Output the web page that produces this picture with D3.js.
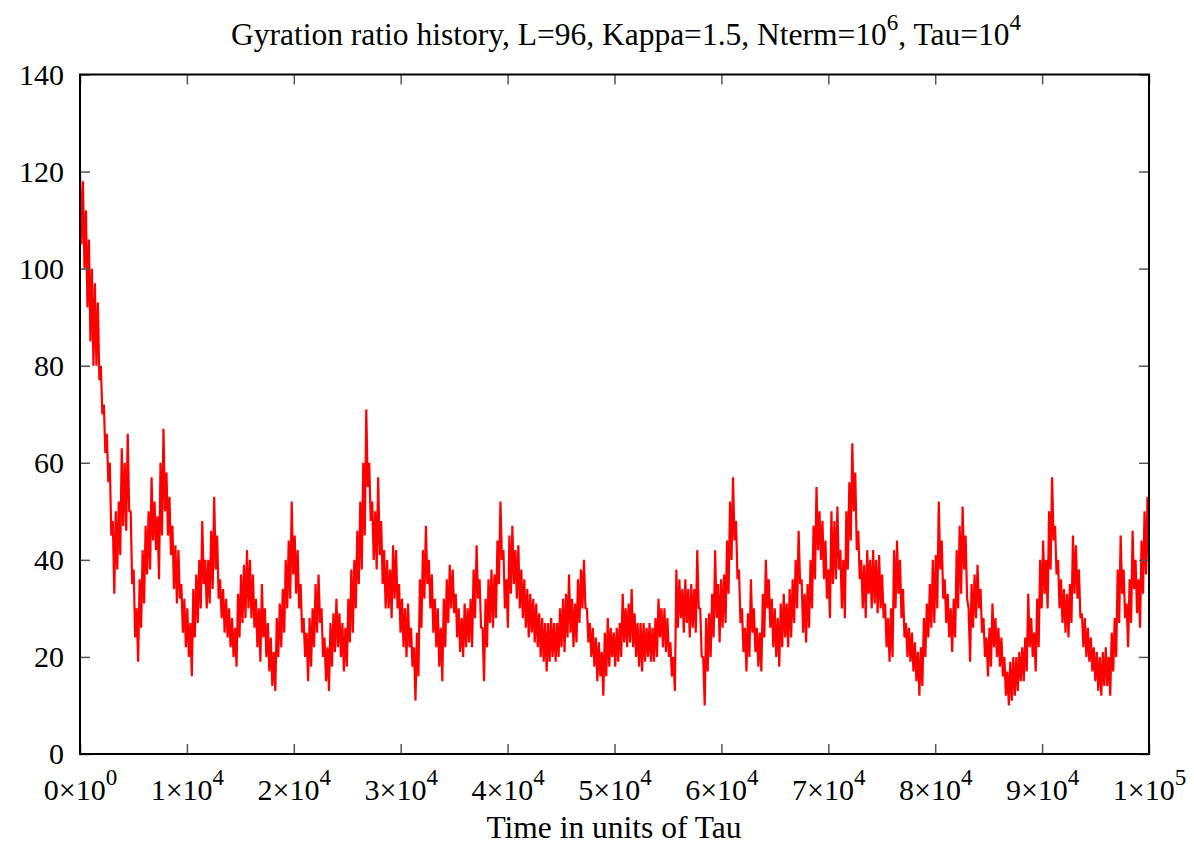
<!DOCTYPE html>
<html lang="en">
<head>
<meta charset="utf-8">
<title>Gyration ratio history</title>
<script src="https://cdn.jsdelivr.net/npm/d3@7"></script>
<style>
  body { margin: 0; background: #fff; }
  svg { display: block; font-family: "Liberation Serif", "Times New Roman", serif; }
  .frame { fill: none; stroke: #000; stroke-width: 2px; }
  .tick line { stroke: #555; stroke-width: 1.5px; }
  .tick text { fill: #000; }
  .trace { fill: none; stroke: #f00; stroke-width: 2.2px; stroke-linejoin: bevel; }
</style>
</head>
<body>
<svg width="1194" height="845"></svg>
<script>
// y ticks
const yTicks = [0, 20, 40, 60, 80, 100, 120, 140];
// x ticks, drawn as mantissa x 10^exponent
const xTicks = [0, 1e4, 2e4, 3e4, 4e4, 5e4, 6e4, 7e4, 8e4, 9e4, 1e5];
const xMantissa = ["0", "1", "2", "3", "4", "5", "6", "7", "8", "9", "1"];
const xExponent = ["0", "4", "4", "4", "4", "4", "4", "4", "4", "4", "5"];

// gyration ratio, upper/lower swing pairs along the run
const ratio = [
  120,105, 118,100, 112,92, 106,85, 100,80, 97,80, 93,77, 80,70, 72,62,
  66,56, 60,45, 48,33, 50,38, 52,41, 63,47, 60,46, 66,50, 50,35, 38,24,
  30,19, 36,26, 42,31, 47,37, 50,38, 57,44, 52,42, 49,36, 60,45,
  67,50, 58,45, 53,41, 47,34, 43,31, 42,32, 35,25, 32,22, 30,20,
  27,16, 34,24, 37,27, 40,30, 48,35, 40,30, 40,31, 46,34, 53,38,
  45,32, 36,28, 34,25, 32,24, 30,22, 28,20, 26,18, 33,24, 37,27, 39,28,
  42,30, 40,28, 37,26, 32,22, 30,19,
  35,24, 30,20, 27,17, 24,14, 21,13, 28,20, 31,22, 34,25, 40,30,
  44,32, 52,37, 45,33, 42,30, 35,25, 28,20, 25,15, 28,18, 30,22, 35,25,
  37,27, 30,20, 24,15, 22,13, 27,18, 29,21, 32,22, 29,20, 27,17, 26,18,
  32,23, 38,25, 40,30, 46,35, 52,38, 60,45, 71,55, 60,48, 52,40, 50,38,
  57,41, 48,35, 42,30, 40,30, 38,28, 43,32, 42,30, 35,25, 32,22, 30,20,
  31,22, 26,18, 22,11, 25,16, 36,26, 42,32, 47,35, 40,30, 37,25, 32,22,
  30,18, 26,15, 32,22, 36,27, 39,30, 38,29, 33,24, 30,21, 28,20, 31,22,
  30,23, 32,22, 38,28, 43,32, 36,26, 26,15, 32,22, 36,27, 38,26, 37,28,
  44,35, 52,40, 42,30, 36,26, 45,33, 47,35, 42,32, 43,30, 38,28, 36,26,
  34,24, 33,25, 32,23, 31,22, 29,20, 28,19, 27,17, 27,19, 28,20, 27,19,
  27,20, 30,22, 32,21, 33,24, 37,25, 32,22, 31,23, 36,27, 38,30, 40,30,
  30,23, 27,20, 26,18, 24,15, 23,16, 21,12, 25,16, 28,18, 26,20, 25,18,
  26,19, 27,20, 33,23, 30,22, 31,23, 34,22, 29,20, 27,18, 27,17, 27,19,
  26,20, 27,19, 26,19, 28,20, 32,24, 30,22, 30,21, 28,20, 23,16, 20,13,
  38,26, 36,28, 34,25, 36,27, 34,24, 35,26, 34,25, 42,30, 30,20, 20,10,
  28,17, 29,20, 33,24, 42,28, 35,23, 36,26, 37,27, 44,33, 52,40, 57,44,
  48,36, 38,27, 30,21, 26,17, 29,20, 36,25, 30,21, 26,18, 25,17, 33,24,
  40,30, 36,26, 32,22, 30,20, 28,18, 31,22, 33,24, 31,22, 34,24, 36,27,
  40,30, 46,35, 36,25, 33,23, 35,26, 40,30, 47,36, 55,42, 50,40, 48,36,
  44,32, 38,28, 50,35, 48,36, 51,38, 42,30, 40,28, 50,38, 56,44, 64,50,
  58,42, 46,36, 40,30, 39,28, 42,33, 40,30, 42,31, 40,29, 41,30, 37,28,
  31,22, 28,19, 30,20, 42,30, 44,33, 40,28, 34,24, 27,20, 26,19, 25,17,
  23,15, 21,12, 22,14, 28,20, 31,24, 35,26, 40,27, 41,30, 52,38, 44,32,
  36,27, 33,24, 30,21, 32,24, 42,30, 47,33, 51,38, 45,32, 30,19, 35,26,
  37,28, 39,30, 34,25, 28,20, 24,16, 26,18, 31,22, 28,20, 26,18, 24,16,
  20,12, 17,10, 19,11, 20,12, 20,13, 21,15, 22,15, 24,17, 33,22, 28,20,
  25,17, 32,22, 40,30, 44,33, 40,30, 50,38, 57,44, 47,37, 40,30, 36,27,
  34,25, 33,24, 35,27, 45,33, 43,32, 38,28, 29,22, 28,20, 26,19, 24,17,
  22,15, 21,13, 20,12, 21,14, 22,14, 20,12, 25,17, 28,20, 38,27, 45,33,
  38,28, 31,22, 36,27, 46,34, 40,29, 36,26, 44,33, 50,37, 53,38
];
const tauStart = 0, tauEnd = 1e5;

const svg = d3.select("svg");

const x = d3.scaleLinear().domain([0, 1e5]).range([80, 1149]);
const y = d3.scaleLinear().domain([0, 140]).range([754, 74.5]);

// samples are evenly spaced in time
const step = (tauEnd - tauStart) / (ratio.length - 1);
const line = d3.line()
    .x((d, i) => x(tauStart + i * step))
    .y(d => y(d));

svg.append("path")
    .datum(ratio)
    .attr("class", "trace")
    .attr("d", line);

// d3 puts sans-serif on the axis group, drop it so the serif face is used
const plain = g => g.attr("font-family", null).attr("font-size", null).call(s => s.select(".domain").remove());

// left axis with labels, ticks pointing inward
svg.append("g")
    .attr("transform", "translate(80,0)")
    .call(d3.axisLeft(y).tickValues(yTicks).tickSizeInner(-10).tickSizeOuter(0).tickPadding(16))
    .call(plain)
    .call(g => g.selectAll("text").attr("font-size", 30));

// mirrored ticks on the right
svg.append("g")
    .attr("transform", "translate(1149,0)")
    .call(d3.axisRight(y).tickValues(yTicks).tickSizeInner(-10).tickSizeOuter(0).tickFormat(""))
    .call(plain);

// bottom axis
const xAxis = svg.append("g")
    .attr("transform", "translate(0,754)")
    .call(d3.axisBottom(x).tickValues(xTicks).tickSizeInner(-10).tickSizeOuter(0).tickFormat(""))
    .call(plain);

xAxis.selectAll(".tick text").remove();
xAxis.selectAll(".tick").each(function (d, i) {
    const t = d3.select(this).append("text")
        .attr("y", 46)
        .attr("text-anchor", "middle")
        .attr("font-size", 30)
        .attr("fill", "#000");
    t.append("tspan").text(xMantissa[i] + "\u00d710");
    t.append("tspan").attr("dy", -15).attr("font-size", 23).text(xExponent[i]);
});

// mirrored ticks on top
svg.append("g")
    .attr("transform", "translate(0,74.5)")
    .call(d3.axisTop(x).tickValues(xTicks).tickSizeInner(-10).tickSizeOuter(0).tickFormat(""))
    .call(plain);

// border
svg.append("rect")
    .attr("class", "frame")
    .attr("x", 80)
    .attr("y", 74.5)
    .attr("width", 1069)
    .attr("height", 679.5);

// title
const title = svg.append("text")
    .attr("x", 626)
    .attr("y", 45)
    .attr("text-anchor", "middle")
    .attr("font-size", 31.5);
title.append("tspan").text("Gyration ratio history, L=96, Kappa=1.5, Nterm=10");
title.append("tspan").attr("dy", -15).attr("font-size", 23).text("6");
title.append("tspan").attr("dy", 15).text(", Tau=10");
title.append("tspan").attr("dy", -15).attr("font-size", 23).text("4");

// x label
svg.append("text")
    .attr("x", 614)
    .attr("y", 838)
    .attr("text-anchor", "middle")
    .attr("font-size", 31.5)
    .text("Time in units of Tau");
</script>
</body>
</html>
